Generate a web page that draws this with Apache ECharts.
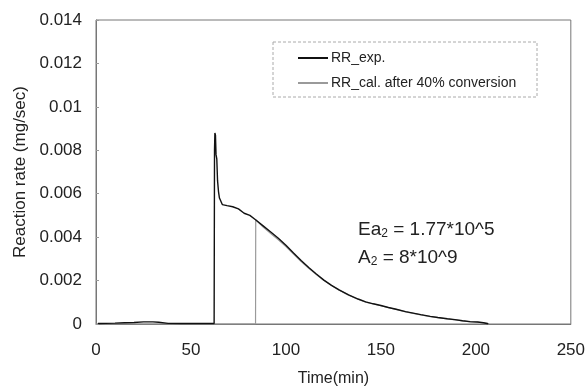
<!DOCTYPE html>
<html>
<head>
<meta charset="utf-8">
<script src="https://cdn.jsdelivr.net/npm/echarts@6/dist/echarts.min.js"></script>
<style>html,body{margin:0;padding:0;background:#fff}#c{width:588px;height:392px}</style>
</head>
<body>
<div id="c"></div>
<script>
// ---- data ----
var expTime = [1,5,10,15,20,25,30,33,38,45,55,62.2,62.4,62.6,62.9,63.2,63.6,64.0,64.5,65.0,66.5,69,72,75,78,81,84,88,92,96,100,104,108,112,116,120,124,128,133,138,142,146,150,154,158,163,167,171,176,180,185,189,193,197,201,204,206.5];
var expRate = [0.00002,0.00003,0.00004,0.00006,0.00007,0.0001,0.0001,0.00008,0.00003,0.00002,0.00002,0.00002,0.0080,0.0088,0.0087,0.0078,0.0076,0.0066,0.0061,0.0058,0.0055,0.00545,0.0054,0.0053,0.0051,0.0050,0.0048,0.00452,0.00424,0.00395,0.00363,0.00327,0.00292,0.0026,0.0023,0.00202,0.00178,0.00157,0.00134,0.00115,0.00102,0.00093,0.00085,0.00076,0.00068,0.00057,0.0005,0.00043,0.00035,0.0003,0.00024,0.0002,0.00015,0.00011,0.00009,0.00006,0.00001];
var calTime = [0,84,84.1,88,92,96,100,104,108,112,116,120,124,128,133,138,142,146,150,154,158,163,167,171,176,180,185,189,193,197,201,204,206.5,207];
var calRate = [0,0,0.0048,0.00446,0.00417,0.00388,0.00357,0.00322,0.00288,0.00257,0.00228,0.002,0.00177,0.00156,0.00133,0.00114,0.00101,0.00092,0.00084,0.00075,0.00067,0.00056,0.00049,0.00042,0.00034,0.00029,0.00023,0.00019,0.00014,0.0001,0.00008,0.00005,0.00002,0];
var seriesNames = ['RR_exp.', 'RR_cal. after 40% conversion'];
var yTickLabels = ['0','0.002','0.004','0.006','0.008','0.01','0.012','0.014'];
var xTickLabels = ['0','50','100','150','200','250'];

function pairs(xs, ys){ return xs.map(function(x,i){ return [x, ys[i]]; }); }

var FONT = "'Liberation Sans', Arial, sans-serif";
var chart = echarts.init(document.getElementById('c'), null, {renderer:'canvas'});
chart.setOption({
  animation: false,
  backgroundColor: '#fff',
  textStyle: {fontFamily: FONT},
  grid: {left: 96, top: 20, right: 14, bottom: 66, show: true, borderColor: '#777', borderWidth: 1, backgroundColor: 'transparent'},
  xAxis: {
    type: 'value', min: 0, max: 250, interval: 50,
    name: 'Time(min)', nameLocation: 'middle', nameGap: 47,
    nameTextStyle: {fontFamily: FONT, fontSize: 16, color: '#222'},
    axisLine: {show: true, lineStyle: {color: '#777'}},
    axisTick: {show: false},
    splitLine: {show: false},
    axisLabel: {fontFamily: FONT, fontSize: 17, color: '#222', margin: 18,
      formatter: function(v){ return xTickLabels[Math.round(v/50)]; }}
  },
  yAxis: {
    type: 'value', min: 0, max: 0.014, interval: 0.002,
    name: 'Reaction rate (mg/sec)', nameLocation: 'middle', nameGap: 66, nameRotate: 90,
    nameTextStyle: {fontFamily: FONT, fontSize: 17, color: '#222'},
    axisLine: {show: true, lineStyle: {color: '#777'}},
    axisTick: {show: true, inside: true, length: 3, lineStyle: {color: '#999'}},
    splitLine: {show: false},
    axisLabel: {fontFamily: FONT, fontSize: 17, color: '#222', margin: 14,
      formatter: function(v){ return yTickLabels[Math.round(v/0.002)]; }}
  },
  legend: {
    orient: 'vertical', left: 298, top: 51, padding: 0, itemWidth: 30, itemHeight: 2, itemGap: 11,
    textStyle: {fontFamily: FONT, fontSize: 14, color: '#222', padding: [0,0,0,-2]},
    data: [{name: seriesNames[0], icon: 'rect'}, {name: seriesNames[1], icon: 'rect'}]
  },
  graphic: [
    {type: 'rect', shape: {x: 273, y: 42, width: 264, height: 55}, style: {fill: 'none', stroke: '#aaa', lineWidth: 1, lineDash: [3,2]}, z: 10},
    {type: 'text', left: 358, top: 220, z: 10, style: {text: '{n|Ea}{s|2}{n| = 1.77*10^5}', rich: {n: {fontFamily: FONT, fontSize: 19, fill: '#222'}, s: {fontFamily: FONT, fontSize: 12, fill: '#222', verticalAlign: 'bottom', padding: [9,0,0,0]}}}},
    {type: 'text', left: 358, top: 248, z: 10, style: {text: '{n|A}{s|2}{n| = 8*10^9}', rich: {n: {fontFamily: FONT, fontSize: 19, fill: '#222'}, s: {fontFamily: FONT, fontSize: 12, fill: '#222', verticalAlign: 'bottom', padding: [9,0,0,0]}}}}
  ],
  series: [
    {name: seriesNames[1], type: 'line', data: pairs(calTime, calRate), showSymbol: false, symbol: 'none',
      lineStyle: {color: '#9a9a9a', width: 1.2}, itemStyle: {color: '#9a9a9a'}, z: 2},
    {name: seriesNames[0], type: 'line', data: pairs(expTime, expRate), showSymbol: false, symbol: 'none',
      lineStyle: {color: '#111', width: 1.4}, itemStyle: {color: '#111'}, z: 3}
  ]
});
</script>
</body>
</html>
